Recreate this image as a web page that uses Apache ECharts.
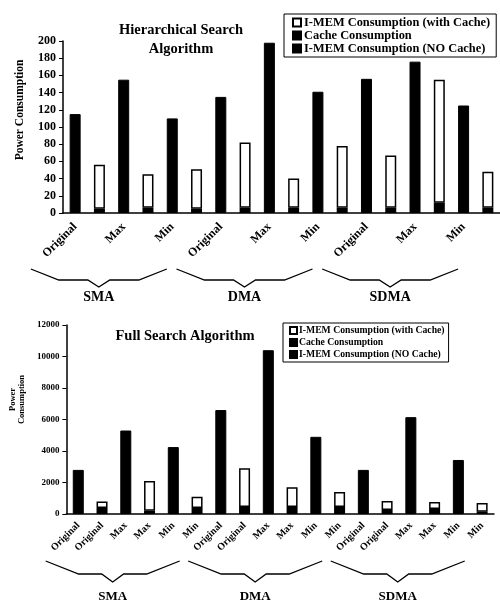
<!DOCTYPE html>
<html><head><meta charset="utf-8">
<script src="https://cdn.jsdelivr.net/npm/echarts@6/dist/echarts.min.js"></script>
<style>html,body{margin:0;padding:0;background:#fff}#c{width:500px;height:601px}</style>
</head><body><div id="c"></div>
<script>
// ---- data ----
const categories = ['Original','Original','Max','Max','Min','Min','Original','Original','Max','Max','Min','Min','Original','Original','Max','Max','Min','Min'];
const groups = ['SMA','DMA','SDMA'];
const seriesNames = ['I-MEM Consumption (with Cache)','Cache Consumption','I-MEM Consumption (NO Cache)'];

// Hierarchical Search Algorithm
const hsYTicks = [0,20,40,60,80,100,120,140,160,180,200];
const hsNoCache   = [115,155,110,135,198,141,156,176,125];
const hsCache     = [5,6,5,6,6,6,6,12,6];
const hsWithCache = [51,39,46,76,34,72,61,143,42];

// Full Search Algorithm
const fsYTicks = [0,2000,4000,6000,8000,10000,12000];
const fsNoCache   = [2800,5300,4250,6600,10400,4900,2800,6150,3430];
const fsCache     = [380,200,380,440,440,440,250,320,150];
const fsWithCache = [420,1900,720,2460,1260,960,580,440,550];

// ---- helpers ----
const FONT = "'Liberation Serif','Times New Roman',serif";
function spread(vals, odd){ const out=[]; vals.forEach(v=>{ if(odd){out.push('-',v);} else {out.push(v,'-');} }); return out; }

function makeSeries(idx, stack, noCache, cache, withCache){
  return [
    {name: seriesNames[2], type:'bar', xAxisIndex:idx, yAxisIndex:idx, stack, barWidth:11,
     itemStyle:{color:'#000', borderColor:'#000', borderWidth:1}, data: spread(noCache,false)},
    {name: seriesNames[1], type:'bar', xAxisIndex:idx, yAxisIndex:idx, stack, barWidth:11,
     itemStyle:{color:'#000', borderColor:'#000', borderWidth:1.5}, data: spread(cache,true)},
    {name: seriesNames[0], type:'bar', xAxisIndex:idx, yAxisIndex:idx, stack, barWidth:11,
     itemStyle:{color:'#fff', borderColor:'#000', borderWidth:1.5}, data: spread(withCache,true)}
  ];
}

const chart = echarts.init(document.getElementById('c'));
const option = {
  animation:false,
  backgroundColor:'#fff',
  title:[
    {text:'Hierarchical Search\nAlgorithm', left:176, top:16, textAlign:'center',
     textStyle:{fontFamily:FONT, fontWeight:'bold', fontSize:14.5, lineHeight:19, color:'#000'}},
    {text:'Full Search Algorithm', left:180, top:324, textAlign:'center',
     textStyle:{fontFamily:FONT, fontWeight:'bold', fontSize:14.5, color:'#000'}}
  ],
  legend:[
    {left:284, top:14, orient:'vertical', itemGap:0, itemWidth:8, itemHeight:8, icon:'rect',
     padding:[2,6,2,8], borderColor:'#000', borderWidth:1, data:seriesNames,
     textStyle:{fontFamily:FONT, fontWeight:'bold', fontSize:12.4, lineHeight:13, color:'#000', padding:[0,0,0,-2]}},
    {left:283, top:323, orient:'vertical', itemGap:1, itemWidth:7, itemHeight:7, icon:'rect',
     padding:[2,4,2,6], borderColor:'#000', borderWidth:1, data:seriesNames,
     textStyle:{fontFamily:FONT, fontWeight:'bold', fontSize:9.7, lineHeight:11, color:'#000', padding:[0,0,0,-3]}}
  ],
  grid:[
    {left:63, top:41, width:437, height:172},
    {left:64, top:325, width:430, height:189}
  ],
  xAxis:[
    {type:'category', gridIndex:0, data:categories,
     axisLine:{lineStyle:{color:'#000', width:1.5}},
     axisTick:{length:3, lineStyle:{color:'#000'}},
     axisLabel:{interval:1, rotate:45, margin:12, color:'#000', fontFamily:FONT, fontWeight:'bold', fontSize:12}},
    {type:'category', gridIndex:1, data:categories,
     axisLine:{lineStyle:{color:'#000', width:1.5}},
     axisTick:{length:3, lineStyle:{color:'#000'}},
     axisLabel:{interval:0, rotate:45, margin:10, color:'#000', fontFamily:FONT, fontWeight:'bold', fontSize:10}}
  ],
  yAxis:[
    {type:'value', gridIndex:0, min:hsYTicks[0], max:hsYTicks[hsYTicks.length-1], interval:hsYTicks[1]-hsYTicks[0],
     name:'Power Consumption', nameLocation:'middle', nameGap:37,
     nameTextStyle:{fontFamily:FONT, fontWeight:'bold', fontSize:11.5, color:'#000', padding:[0,0,0,34]},
     axisLine:{show:true, lineStyle:{color:'#000', width:1.5}},
     axisTick:{show:true, length:4, lineStyle:{color:'#000'}},
     splitLine:{show:false},
     axisLabel:{margin:7, color:'#000', fontFamily:FONT, fontWeight:'bold', fontSize:12, formatter:v=>String(v)}},
    {type:'value', gridIndex:1, min:fsYTicks[0], max:fsYTicks[fsYTicks.length-1], interval:fsYTicks[1]-fsYTicks[0],
     name:'Power\nConsumption', nameLocation:'middle', nameGap:31,
     nameTextStyle:{fontFamily:FONT, fontWeight:'bold', fontSize:8.5, lineHeight:9, color:'#000', padding:[0,0,0,40]},
     axisLine:{show:true, lineStyle:{color:'#000', width:1.5}},
     axisTick:{show:true, length:4, lineStyle:{color:'#000'}},
     splitLine:{show:false},
     axisLabel:{margin:7, color:'#000', fontFamily:FONT, fontWeight:'bold', fontSize:9, formatter:v=>String(v)}}
  ],
  series:[].concat(
    makeSeries(0,'hs',hsNoCache,hsCache,hsWithCache),
    makeSeries(1,'fs',fsNoCache,fsCache,fsWithCache)
  )
};
chart.setOption(option);

// group braces under the category labels, positioned from the axes
function px(axisIdx, i){ const r = chart.convertToPixel({xAxisIndex:axisIdx}, i); return Array.isArray(r)?r[0]:r; }
function braces(axisIdx, shift, halfW, inner, yTop, yMid, yTip, yText, fs){
  const els=[];
  const band = px(axisIdx,1)-px(axisIdx,0);
  groups.forEach((g,k)=>{
    const a = px(axisIdx,6*k)-band/2, b = px(axisIdx,6*k+5)+band/2;
    const c = (a+b)/2 + shift;
    els.push({type:'polyline', silent:true,
      shape:{points:[[c-halfW,yTop],[c-halfW+inner,yMid],[c-11,yMid],[c,yTip],[c+11,yMid],[c+halfW-inner,yMid],[c+halfW,yTop]]},
      style:{stroke:'#000', lineWidth:1.3, fill:null}});
    els.push({type:'text', silent:true, x:c, y:yText,
      style:{text:g, align:'center', verticalAlign:'middle', fill:'#000', font:`bold ${fs}px ${FONT}`}});
  });
  return els;
}
chart.setOption({graphic: [].concat(
  braces(0,-37,68,28,269,280,287,297,14),
  braces(1,-25,67,33,561,574,582,597,13)
)});
</script></body></html>
